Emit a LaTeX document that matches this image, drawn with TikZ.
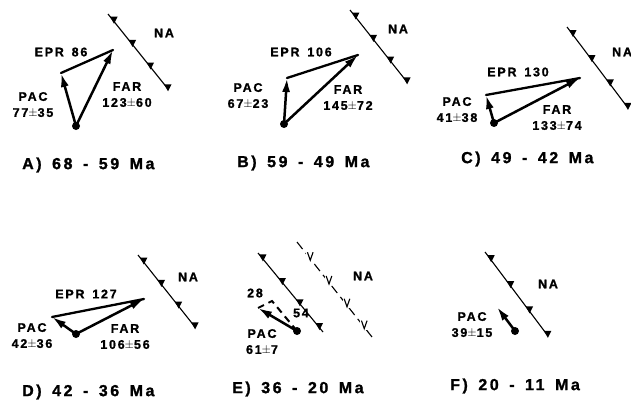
\documentclass[tikz,border=0pt]{standalone}
\usepackage{fontspec}
\setmainfont{Liberation Sans}
\newfontfamily\labfont{Liberation Sans}[LetterSpace=14,WordSpace=1.5,BoldFeatures={FakeBold=1.2}]
\newfontfamily\ttlfont{Liberation Sans}[LetterSpace=16,WordSpace=1.5,BoldFeatures={FakeBold=1.2}]
\usetikzlibrary{arrows.meta,calc}
\tikzset{
  lab/.style={font=\labfont\bfseries\fontsize{12.5}{13}\selectfont, inner sep=0pt, align=center},
  ttl/.style={font=\ttlfont\bfseries\fontsize{16}{18}\selectfont, inner sep=0pt, anchor=west},
  dotnode/.style={circle, fill=black, inner sep=0pt, minimum size=8pt},
  vec/.style={line width=2.5pt, -{Latex[length=14pt,width=8pt]}},
  epr/.style={line width=2.3pt, line cap=round},
  trench/.style={line width=1.1pt},
  tooth/.style={fill=black},
}
\newcommand{\trenchline}[2]{%
  \draw[trench] (#1) -- (#2);
  \foreach \t in {0.05,0.36,0.66,0.95}{
    \fill[tooth] ($(#1)!\t!(#2)$) ++(-1,-1) -- ++(7.5,0) -- ++(-3.5,7) -- cycle;
  }}
\newcommand{\vmark}[1]{\draw[line width=1.1pt] ($(#1)+(-2.8,-4)$) -- ($(#1)+(0,4)$) -- ($(#1)+(2.8,-4)$);}
\begin{document}
\begin{tikzpicture}[x=1pt,y=-1pt]
\useasboundingbox (0,0) rectangle (631,404);
\fill[white] (0,0) rectangle (631,404);

% ---------- A ----------
\coordinate (As1) at (108,14); \coordinate (As2) at (168,89);
\trenchline{As1}{As2}
\node[lab] (Ana) at (164,33) {NA};
\node[dotnode] (Ao) at (76,126) {};
\coordinate (Ap) at (61,73);
\coordinate (Af) at (113,50);
\draw[epr] (Ap) -- (Af);
\draw[vec] (Ao.center) -- (Ap);
\draw[vec] (Ao.center) -- (Af);
\node[lab] (Aepr) at (61,52) {EPR 86};
\node[lab] (Apac) at (33,105) {PAC\\[3pt]77$\pm$35};
\node[lab] (Afar) at (127,95) {FAR\\[3pt]123$\pm$60};
\node[ttl] (At) at (22,165) {A) 68 - 59 Ma};

% ---------- B ----------
\coordinate (Bs1) at (350,10); \coordinate (Bs2) at (407,82);
\trenchline{Bs1}{Bs2}
\node[lab] (Bna) at (398,29) {NA};
\node[dotnode] (Bo) at (284,124) {};
\coordinate (Bp) at (287,78);
\coordinate (Bf) at (358,55);
\draw[epr] (Bp) -- (Bf);
\draw[vec] (Bo.center) -- (Bp);
\draw[vec] (Bo.center) -- (Bf);
\node[lab] (Bepr) at (301,52) {EPR 106};
\node[lab] (Bpac) at (248,96) {PAC\\[3pt]67$\pm$23};
\node[lab] (Bfar) at (348,98) {FAR\\[3pt]145$\pm$72};
\node[ttl] (Bt) at (237,163) {B) 59 - 49 Ma};

% ---------- C ----------
\coordinate (Cs1) at (567,27); \coordinate (Cs2) at (628,108);
\trenchline{Cs1}{Cs2}
\node[lab, anchor=west] (Cna) at (612,52) {NA};
\node[dotnode] (Co) at (494,123) {};
\coordinate (Cp) at (486,95);
\coordinate (Cf) at (580,78);
\draw[epr] (Cp) -- (Cf);
\draw[vec] (Co.center) -- (Cp);
\draw[vec] (Co.center) -- (Cf);
\node[lab] (Cepr) at (518,72) {EPR 130};
\node[lab] (Cpac) at (457,110) {PAC\\[3pt]41$\pm$38};
\node[lab] (Cfar) at (557,118) {FAR\\[3pt]133$\pm$74};
\node[ttl] (Ct) at (461,159) {C) 49 - 42 Ma};

% ---------- D ----------
\coordinate (Ds1) at (138,255); \coordinate (Ds2) at (195,327);
\trenchline{Ds1}{Ds2}
\node[lab] (Dna) at (188,277) {NA};
\node[dotnode] (Do) at (76,334) {};
\coordinate (Dp) at (52,317);
\coordinate (Df) at (144,299);
\draw[epr] (Dp) -- (Df);
\draw[vec] (Do.center) -- (Dp);
\draw[vec] (Do.center) -- (Df);
\node[lab] (Depr) at (86,294) {EPR 127};
\node[lab] (Dpac) at (32,336) {PAC\\[3pt]42$\pm$36};
\node[lab] (Dfar) at (125,337) {FAR\\[3pt]106$\pm$56};
\node[ttl] (Dt) at (22,392) {D) 42 - 36 Ma};

% ---------- E ----------
\coordinate (Es1) at (258,253); \coordinate (Es2) at (323,332);
\draw[trench] (Es1) -- (Es2);
\foreach \t in {0.03,0.33,0.6,0.9}{
  \fill[tooth] ($(Es1)!\t!(Es2)$) ++(-1,-1) -- ++(7.5,0) -- ++(-3.5,7) -- cycle;
}
\coordinate (Ev1) at (297,242); \coordinate (Ev2) at (372,337);
\draw[trench, dash pattern=on 9pt off 5pt] (Ev1) -- (Ev2);
\foreach \t in {0.15,0.40,0.64,0.87}{
  \coordinate (vv) at ($(Ev1)!\t!(Ev2)+(2,0)$);
  \fill[white] ($(vv)+(-3.8,-5)$) rectangle ($(vv)+(3.8,5)$);
  \vmark{vv}
}
\node[lab] (Ena) at (363,276) {NA};
\node[dotnode] (Eo) at (297,331) {};
\coordinate (Ec) at (272,301);
\coordinate (Ep) at (258,308);
\draw[line width=2pt, dash pattern=on 7pt off 5pt] (Eo.center) -- (Ec) -- (Ep);
\draw[vec] (Eo.center) -- (Ep);
\node[lab] (E28) at (255,293) {28};
\node[lab] (E54) at (301,313) {54};
\node[lab] (Epac) at (262,342) {PAC\\[3pt]61$\pm$7};
\node[ttl] (Et) at (232,389) {E) 36 - 20 Ma};

% ---------- F ----------
\coordinate (Fs1) at (485,252); \coordinate (Fs2) at (548,336);
\trenchline{Fs1}{Fs2}
\node[lab] (Fna) at (548,284) {NA};
\node[dotnode] (Fo) at (515,331) {};
\coordinate (Fp) at (497,307);
\draw[vec] (Fo.center) -- (Fp);
\node[lab] (Fpac) at (472,325) {PAC\\[3pt]39$\pm$15};
\node[ttl] (Ft) at (450,386) {F) 20 - 11 Ma};
\end{tikzpicture}
\end{document}
